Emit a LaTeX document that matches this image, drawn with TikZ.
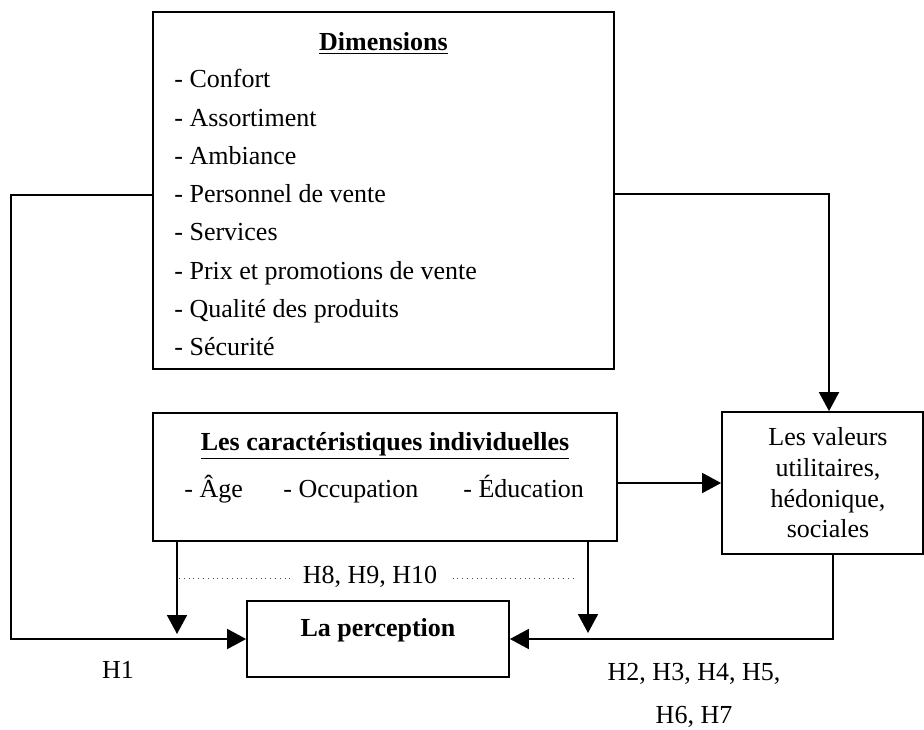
\documentclass[tikz,border=0pt]{standalone}
\usepackage{fontspec}
\setmainfont{Liberation Serif}
\usetikzlibrary{arrows.meta,calc}
\begin{document}
\begin{tikzpicture}[x=0.5pt,y=-0.5pt,
  font=\fontsize{13}{15}\selectfont,
  box/.style={draw, line width=0.9pt, inner sep=0pt},
  txt/.style={inner sep=0pt, anchor=base},
  txtl/.style={inner sep=0pt, anchor=base west},
  conn/.style={line width=0.9pt, -{Triangle[length=9.5pt,width=10pt]}},
  dotline/.style={line width=0.4pt, dotted, black!70}]
\useasboundingbox (0,0) rectangle (924,729);

% boxes
\node[box, minimum width=230.5pt, minimum height=178.5pt] (dim) at (383.5,190.5) {};
\node[box, minimum width=232pt, minimum height=64pt] (car) at (385,477) {};
\node[box, minimum width=100.5pt, minimum height=71pt] (val) at (822.5,483) {};
\node[box, minimum width=131pt, minimum height=38pt] (per) at (378,639) {};

% Dimensions text
\node[txt] (dimt) at (383.5,50) {\underline{\textbf{Dimensions}}};
\node[txtl] (d1) at (174,87) {- Confort};
\node[txtl] (d2) at (174,126) {- Assortiment};
\node[txtl] (d3) at (174,164) {- Ambiance};
\node[txtl] (d4) at (174,202) {- Personnel de vente};
\node[txtl] (d5) at (174,240) {- Services};
\node[txtl] (d6) at (174,279) {- Prix et promotions de vente};
\node[txtl] (d7) at (174,317) {- Qualité des produits};
\node[txtl] (d8) at (174,355) {- Sécurité};

% caracteristiques text
\node[txt] (cart) at (385,450) {\underline{\textbf{Les caractéristiques individuelles}}};
\node[txtl] (c1) at (184,497) {- Âge};
\node[txtl] (c2) at (283,497) {- Occupation};
\node[txtl] (c3) at (463,497) {- Éducation};

% valeurs text
\node[txt] (v1) at (828,445) {Les valeurs};
\node[txt] (v2) at (828,476) {utilitaires,};
\node[txt] (v3) at (828,507) {hédonique,};
\node[txt] (v4) at (828,537) {sociales};

% perception text
\node[txt] (pt) at (378,636) {\textbf{La perception}};

% hypothesis labels
\node[txt] (h1) at (118,678) {H1};
\node[txt] (h25) at (694,680) {H2, H3, H4, H5,};
\node[txt] (h67) at (694,723) {H6, H7};
\node[txt] (h810) at (370,583) {H8, H9, H10};

% free ends
\coordinate (a1) at (177,634);
\coordinate (a2) at (588,633);
\coordinate (e1) at (179,578);
\coordinate (e2) at (575,578);

% connectors
\draw[conn] ([yshift=-2.25pt]dim.west) -- ++(-141,0) |- (per.west);
\draw[conn] ([yshift=-1.75pt]dim.east) -| ([xshift=3.25pt]val.north);
\draw[conn] (car.east |- val.west) -- (val.west);
\draw[conn] (car.south -| a1) -- (a1);
\draw[conn] (car.south -| a2) -- (a2);
\draw[conn] ([xshift=5.25pt]val.south) |- (per.east);

% dotted lines
\draw[dotline] (e1) -- ([xshift=-5.5pt]h810.west |- e1);
\draw[dotline] ([xshift=7.5pt]h810.east |- e2) -- (e2);
\end{tikzpicture}
\end{document}
